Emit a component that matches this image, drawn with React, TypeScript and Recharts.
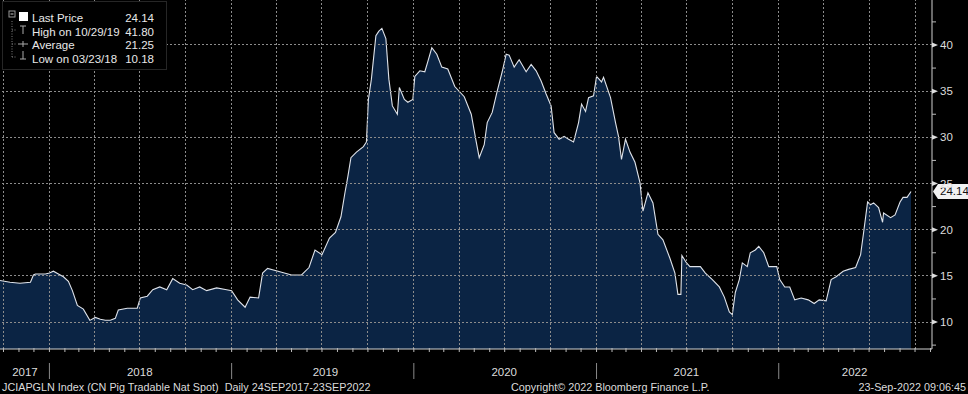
import React from "react";
import { AreaChart, Area, XAxis, YAxis, ReferenceLine } from "recharts";

// JCIAPGLN Index (approx. every 1-2 weeks)
const dates = [
  "2017-09-24", "2017-10-14", "2017-11-03", "2017-11-24", "2017-11-30", "2017-12-04", "2017-12-24",
  "2018-01-01", "2018-01-09", "2018-01-19", "2018-01-29", "2018-02-08", "2018-02-16", "2018-02-26",
  "2018-03-10", "2018-03-23", "2018-04-03", "2018-04-13", "2018-04-23", "2018-05-03", "2018-05-13",
  "2018-05-19", "2018-06-06", "2018-06-26", "2018-07-02", "2018-07-16", "2018-07-27", "2018-08-10",
  "2018-08-24", "2018-09-05", "2018-09-19", "2018-10-03", "2018-10-15", "2018-10-29", "2018-11-12",
  "2018-12-02", "2018-12-22",
  "2019-01-01", "2019-01-13", "2019-01-28", "2019-02-07", "2019-02-24", "2019-03-04", "2019-03-14",
  "2019-04-04", "2019-05-01", "2019-05-21", "2019-06-05", "2019-06-17", "2019-07-01", "2019-07-16",
  "2019-07-28", "2019-08-08", "2019-08-16", "2019-08-22", "2019-08-28", "2019-09-08", "2019-09-22",
  "2019-09-28", "2019-10-02", "2019-10-08", "2019-10-17", "2019-10-23", "2019-10-29", "2019-11-06",
  "2019-11-12", "2019-11-19", "2019-11-29", "2019-12-03", "2019-12-13", "2019-12-20", "2019-12-30",
  "2020-01-03", "2020-01-13", "2020-01-23", "2020-01-29", "2020-02-06", "2020-02-16", "2020-02-26",
  "2020-03-09", "2020-03-23", "2020-04-11", "2020-04-25", "2020-05-05", "2020-05-11", "2020-05-21",
  "2020-05-27", "2020-06-06", "2020-06-16", "2020-06-26", "2020-07-04", "2020-07-10", "2020-07-20",
  "2020-07-30", "2020-08-13", "2020-08-23", "2020-09-02", "2020-09-12", "2020-09-22", "2020-10-02",
  "2020-10-08", "2020-10-18", "2020-10-28", "2020-11-06", "2020-11-16", "2020-11-26", "2020-12-02",
  "2020-12-10", "2020-12-16", "2020-12-26",
  "2021-01-01", "2021-01-11", "2021-01-15", "2021-01-29", "2021-02-08", "2021-02-14", "2021-02-20",
  "2021-02-28", "2021-03-09", "2021-03-19", "2021-03-29", "2021-04-04", "2021-04-14", "2021-04-24",
  "2021-05-04", "2021-05-14", "2021-05-28", "2021-06-07", "2021-06-13", "2021-06-19", "2021-06-21",
  "2021-06-29", "2021-07-07", "2021-07-18", "2021-07-28", "2021-08-07", "2021-08-21", "2021-09-04",
  "2021-09-14", "2021-09-24", "2021-09-30", "2021-10-06", "2021-10-14", "2021-10-20", "2021-10-30",
  "2021-11-05", "2021-11-15", "2021-11-22", "2021-12-02", "2021-12-12", "2021-12-28",
  "2022-01-03", "2022-01-13", "2022-01-23", "2022-02-02", "2022-02-15", "2022-03-01", "2022-03-13",
  "2022-03-23", "2022-04-06", "2022-04-16", "2022-04-26", "2022-05-10", "2022-05-21", "2022-06-04",
  "2022-06-14", "2022-06-20", "2022-06-28", "2022-07-04", "2022-07-10", "2022-07-20", "2022-07-28",
  "2022-07-30", "2022-08-13", "2022-08-22", "2022-09-01", "2022-09-07", "2022-09-15", "2022-09-23",
];

const prices = [
  14.5, 14.3, 14.2, 14.3, 15.1, 15.2, 15.2,
  15.3, 15.5, 15.2, 14.9, 14.4, 13.4, 11.8,
  11.4, 10.18, 10.5, 10.3, 10.2, 10.2, 10.4,
  11.3, 11.5, 11.5, 12.6, 12.8, 13.5, 13.8,
  13.5, 14.7, 14.2, 14.0, 13.5, 13.8, 13.4,
  13.7, 13.5,
  13.4, 12.4, 11.6, 12.7, 12.6, 15.3, 15.8,
  15.5, 15.1, 15.1, 15.9, 17.8, 17.3, 19.1,
  19.7, 21.4, 24.0, 25.8, 27.8, 28.4, 29.0,
  29.5, 34.1, 36.3, 41.0, 41.5, 41.8, 40.7,
  36.3, 33.4, 32.5, 35.4, 34.1, 33.8, 34.1,
  36.6, 37.2, 37.1, 38.2, 39.7, 39.0, 37.6,
  37.4, 35.5, 34.4, 32.5, 29.5, 27.8, 29.2,
  31.6, 32.7, 35.0, 37.1, 39.0, 38.9, 37.6,
  38.4, 37.1, 37.9, 37.2, 36.1, 34.7, 33.4,
  30.5, 29.8, 30.1, 29.8, 29.5, 31.6, 33.6,
  32.8, 34.3, 34.5,
  36.6, 36.0, 36.5, 34.3, 31.6, 30.1, 27.6,
  29.8, 28.4, 27.3, 25.1, 22.0, 24.0, 22.9,
  19.5, 18.9, 16.9, 15.3, 13.0, 13.0, 17.2,
  16.5, 16.0, 16.0, 16.0, 15.3, 14.6, 13.8,
  12.7, 11.1, 10.8, 13.2, 14.6, 16.4, 16.0,
  17.5, 17.8, 18.2, 17.5, 16.0, 16.0,
  14.6, 13.8, 13.8, 12.4, 12.6, 12.4, 12.0,
  12.4, 12.3, 14.6, 14.9, 15.5, 15.7, 15.9,
  17.3, 19.7, 23.0, 22.7, 22.9, 22.4, 20.8,
  21.8, 21.3, 21.6, 23.0, 23.5, 23.5, 24.14,
];

const legendRows = [
  { label: "Last Price", value: "24.14" },
  { label: "High on 10/29/19", value: "41.80" },
  { label: "Average", value: "21.25" },
  { label: "Low on 03/23/18", value: "10.18" },
];
const lastPrice = 24.14;

const yearLabels = ["2017", "2018", "2019", "2020", "2021", "2022"];
const yearLabelDates = ["2017-11-13", "2018-07-01", "2019-07-08", "2020-06-30", "2021-06-30", "2022-06-02"];
const priceTicks = [7.5, 10, 12.5, 15, 17.5, 20, 22.5, 25, 27.5, 30, 32.5, 35, 37.5, 40, 42.5];
const gridPrices = [10, 15, 20, 25, 30, 35, 40];

const footerLeft = "JCIAPGLN Index (CN Pig Tradable Nat Spot)  Daily 24SEP2017-23SEP2022";
const footerMid = "Copyright\u00a9 2022 Bloomberg Finance L.P.";
const footerRight = "23-Sep-2022 09:06:45";

const xStart = Date.parse("2017-09-24");
const xEnd = Date.parse("2022-11-04");

// month starts / quarter starts for the axis ticks and the grid
const monthTicks: number[] = [];
for (let y = 2017; y <= 2022; y++) {
  for (let m = 0; m < 12; m++) {
    const t = Date.UTC(y, m, 1);
    if (t > xStart && t <= xEnd) monthTicks.push(t);
  }
}
const quarterTicks = monthTicks.filter((t) => new Date(t).getUTCMonth() % 3 === 0);

const data = dates.map((d, i) => ({ t: Date.parse(d), v: prices[i] }));

const FONT = '"Liberation Sans", Arial, sans-serif';
const TEXT = "#dcdcdc";
const GRID = "#8c8c8c";

const MonthTick = (props: any) => {
  const { x, y, payload } = props;
  const jan = new Date(payload.value).getUTCMonth() === 0;
  return (
    <g>
      <line x1={x} x2={x} y1={y - 1} y2={y + 3} stroke="#bbb" />
      {jan && <line x1={x} x2={x} y1={y + 14} y2={y + 30} stroke="#8a8a8a" />}
    </g>
  );
};

const YearTick = (props: any) => {
  const { x, y, index } = props;
  return (
    <text x={x} y={y + 13} textAnchor="middle" fill={TEXT} fontSize={11.5} fontFamily={FONT}>
      {yearLabels[index]}
    </text>
  );
};

const PriceTick = (props: any) => {
  const { x, y, payload } = props;
  if (payload.value % 5 !== 0) {
    return <line x1={x} x2={x + 4} y1={y} y2={y} stroke="#bbb" />;
  }
  return (
    <g>
      <path d={`M${x},${y - 2.5}L${x + 6},${y}L${x},${y + 2.5}Z`} fill="#ddd" />
      <text x={x + 8} y={y + 4} fill={TEXT} fontSize={11.5} fontFamily={FONT}>
        {payload.value}
      </text>
    </g>
  );
};

const PriceTag = (props: any) => {
  const vb = props.viewBox;
  if (!vb) return null;
  const x = vb.x + vb.width;
  const y = vb.y;
  return (
    <g>
      <path d={`M${x + 1},${y}L${x + 6},${y - 7.5}H${x + 36}V${y + 7.5}H${x + 6}Z`} fill="#f2f2f2" />
      <text x={x + 8} y={y + 4} fill="#111" fontSize={11.5} fontFamily={FONT}>
        {lastPrice.toFixed(2)}
      </text>
    </g>
  );
};

function Legend() {
  return (
    <svg
      width={163}
      height={67}
      style={{ position: "absolute", left: 3, top: 2, background: "#000", outline: "1px solid #262626" }}
    >
      <g stroke="#7a7a7a" strokeDasharray="1 1.5" fill="none">
        <line x1={9} x2={9} y1={19} y2={55} />
        <line x1={9} x2={14} y1={28} y2={28} />
        <line x1={9} x2={14} y1={42} y2={42} />
        <line x1={9} x2={14} y1={55} y2={55} />
      </g>
      <rect x={6} y={9} width={6} height={6} fill="none" stroke="#999" />
      <line x1={7.5} x2={10.5} y1={12} y2={12} stroke="#ccc" />
      <rect x={16} y={10} width={9} height={9} fill="#fff" />
      <g stroke="#aaa" fill="none">
        <line x1={17} x2={23} y1={24} y2={24} />
        <line x1={20} x2={20} y1={24} y2={32} />
        <line x1={15} x2={25} y1={42} y2={42} />
        <line x1={20} x2={20} y1={39} y2={45} />
        <line x1={20} x2={20} y1={49} y2={57} />
        <line x1={17} x2={23} y1={57} y2={57} />
      </g>
      {legendRows.map((r, i) => (
        <g key={r.label} fontFamily={FONT} fontSize={11.5} fill="#e8e8e8">
          <text x={29} y={20 + i * 13.6}>{r.label}</text>
          <text x={151} y={20 + i * 13.6} textAnchor="end">{r.value}</text>
        </g>
      ))}
    </svg>
  );
}

export default function App() {
  const footStyle: React.CSSProperties = {
    position: "absolute",
    top: 381,
    fontFamily: FONT,
    fontSize: 10.8,
    color: TEXT,
    whiteSpace: "pre",
    lineHeight: "13px",
  };
  return (
    <div style={{ position: "absolute", left: 0, top: 0, width: 968, height: 394, background: "#000", overflow: "hidden" }}>
      <AreaChart width={968} height={394} data={data} margin={{ top: 0, right: 0, left: 0, bottom: 15 }}>
        <XAxis
          xAxisId="m"
          type="number"
          dataKey="t"
          domain={[xStart, xEnd]}
          ticks={monthTicks}
          interval={0}
          height={14}
          tickSize={0}
          tickMargin={0}
          tick={<MonthTick />}
          tickLine={false}
          axisLine={{ stroke: "#d0d0d0" }}
          allowDataOverflow
        />
        <XAxis
          xAxisId="y"
          type="number"
          dataKey="t"
          domain={[xStart, xEnd]}
          ticks={yearLabelDates.map((d) => Date.parse(d))}
          interval={0}
          height={16}
          tickSize={0}
          tickMargin={0}
          tick={<YearTick />}
          tickLine={false}
          axisLine={false}
          allowDataOverflow
        />
        <YAxis
          yAxisId="p"
          orientation="right"
          type="number"
          domain={[7.08, 44.87]}
          ticks={priceTicks}
          interval={0}
          width={36}
          tickSize={0}
          tickMargin={0}
          tick={<PriceTick />}
          tickLine={false}
          axisLine={{ stroke: "#d0d0d0" }}
          allowDataOverflow
        />
        <Area
          xAxisId="m"
          yAxisId="p"
          type="linear"
          dataKey="v"
          stroke="#dfe3ea"
          strokeWidth={1.1}
          fill="#0b2444"
          fillOpacity={1}
          dot={false}
          activeDot={false}
          isAnimationActive={false}
        />
        {quarterTicks.map((t) => (
          <ReferenceLine
            key={`q${t}`}
            xAxisId="m"
            yAxisId="p"
            x={t}
            stroke={GRID}
            strokeWidth={1}
            strokeDasharray="2 2"
            shapeRendering="crispEdges"
          />
        ))}
        {gridPrices.map((p) => (
          <ReferenceLine
            key={`g${p}`}
            xAxisId="m"
            yAxisId="p"
            y={p}
            stroke={GRID}
            strokeWidth={1}
            strokeDasharray="2 2"
            shapeRendering="crispEdges"
          />
        ))}
        <ReferenceLine xAxisId="m" yAxisId="p" y={lastPrice} strokeOpacity={0} label={(p: any) => <PriceTag {...p} />} />
      </AreaChart>
      <Legend />
      <div style={{ ...footStyle, left: 2 }}>{footerLeft}</div>
      <div style={{ ...footStyle, left: 511 }}>{footerMid}</div>
      <div style={{ ...footStyle, right: 2 }}>{footerRight}</div>
    </div>
  );
}
